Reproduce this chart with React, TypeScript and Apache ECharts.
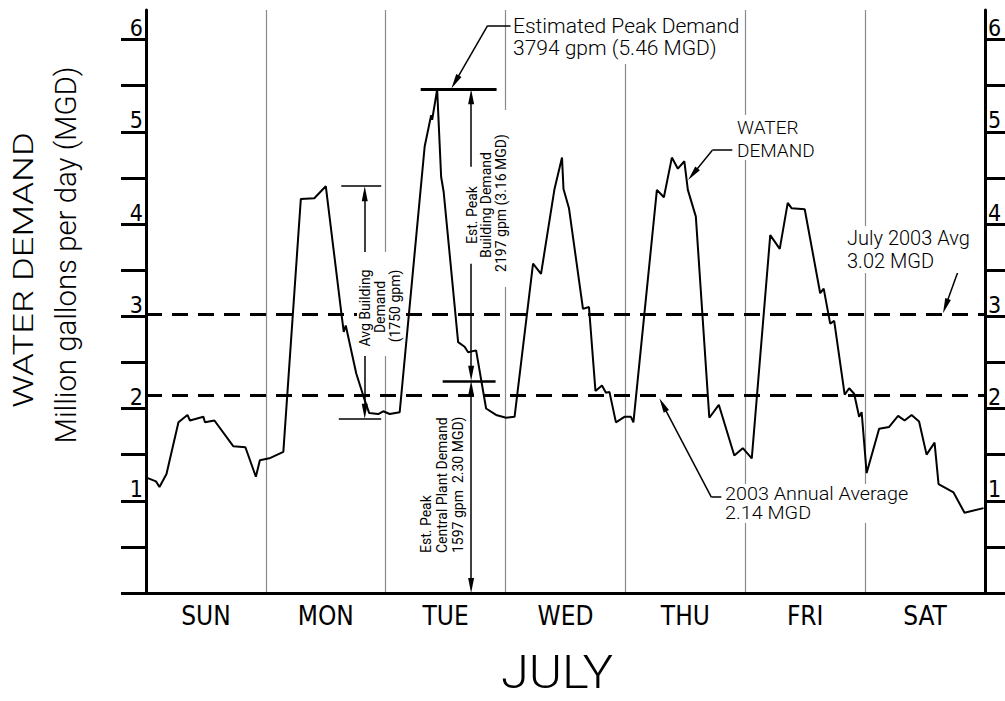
import React, { useEffect, useRef } from 'react';
import * as echarts from 'echarts';

// ---- data ----
const days = ['SUN', 'MON', 'TUE', 'WED', 'THU', 'FRI', 'SAT'];
// hours since Sunday 00:00
const hours = [
  0.1, 2, 2.7, 4.1, 6.5, 8.3, 8.8, 11.5, 11.8, 13.7, 17.5, 19.9, 22, 22.8,
  24.7, 27.5, 31, 33.7, 36, 39.2, 39.6, 40, 42.1, 43.8, 44.7, 46.5, 47.5, 48.8,
  50.8, 55.8, 57.1, 57.3, 58.3, 59.1, 59.6, 62.5, 63.8, 64.5, 66.1, 68.1, 70.1, 72.1,
  73.8, 77.5, 79.1, 81.8, 83.3, 83.6, 84.7, 87.5, 88.7, 90.0, 91.3, 92.1, 92.8, 94.1,
  95.8, 97.1, 97.6, 102.3, 103.7, 105.3, 106.5, 107.8, 108.5, 110.1, 112.8, 114.7, 117.8, 119.5,
  121.3, 125.0, 126.9, 128.5, 129.3, 131.9, 135.0, 135.7, 137.0, 137.8, 139.9, 140.8, 141.8, 142.8,
  143.3, 144.3, 146.8, 148.8, 150.6, 151.9, 153.3, 154.8, 156.3, 157.9, 158.7, 161.7, 163.9, 167.7,
];
// million gallons per day
const demand = [
  1.25, 1.21, 1.15, 1.29, 1.85, 1.93, 1.87, 1.91, 1.85, 1.87, 1.59, 1.58, 1.26, 1.44,
  1.46, 1.53, 4.27, 4.28, 4.41, 3.0, 2.83, 2.9, 2.38, 2.09, 1.95, 1.94, 1.97, 1.94,
  1.96, 4.84, 5.18, 5.13, 5.46, 4.51, 4.35, 2.72, 2.67, 2.61, 2.63, 2.0, 1.93, 1.9,
  1.91, 3.57, 3.46, 4.38, 4.72, 4.38, 4.17, 3.08, 3.1, 2.19, 2.25, 2.17, 2.18, 1.85,
  1.91, 1.91, 1.85, 4.37, 4.29, 4.72, 4.6, 4.68, 4.37, 4.08, 1.9, 2.04, 1.49, 1.57,
  1.46, 3.88, 3.73, 4.23, 4.17, 4.16, 3.25, 3.3, 2.92, 2.95, 2.15, 2.22, 2.16, 1.91,
  1.96, 1.3, 1.78, 1.8, 1.92, 1.87, 1.93, 1.86, 1.5, 1.63, 1.18, 1.09, 0.87, 0.92,
];
const julyAvg = 3.02;
const annualAvg = 2.14;
const peakDemand = 5.46;
const plantPeak = 2.3;
const avgBuildingHigh = 4.41;
const avgBuildingLow = 1.89;
const yTickValues = [0, 0.5, 1, 1.5, 2, 2.5, 3, 3.5, 4, 4.5, 5, 5.5, 6];
const yLabelValues = [1, 2, 3, 4, 5, 6];

const FONT = 'Roboto, "Liberation Sans", sans-serif';
const NARROW = '"Liberation Sans Narrow", "DejaVu Sans Condensed", Roboto, sans-serif';

type P = [number, number];
const HEAD = 0.081; // half arrow head length in MGD units (vertical)

function seg(a: P, b: P, w: number, s0 = 'none', s1 = 'none') {
  const ls = { color: '#000', width: w, type: 'solid' as const };
  return [
    { coord: a, symbol: s0, symbolSize: [6, 15], lineStyle: ls },
    { coord: b, symbol: s1, symbolSize: [6, 15], lineStyle: ls },
  ];
}

const annotationLines = [
  // peak bar & plant bar
  seg([55.0, peakDemand], [70.2, peakDemand], 3),
  seg([59.4, plantPeak], [70.0, plantPeak], 2.5),
  // avg building bars
  seg([39.1, avgBuildingHigh], [47.1, avgBuildingHigh], 1.5),
  seg([38.6, avgBuildingLow], [47.1, avgBuildingLow], 1.5),
  // est. peak building demand arrow
  seg([65.1, peakDemand - HEAD], [65.1, 4.62], 1.5, 'triangle', 'none'),
  seg([65.1, 3.57], [65.1, plantPeak + HEAD], 1.5, 'none', 'triangle'),
  // central plant arrow
  seg([65.1, plantPeak - HEAD], [65.1, HEAD], 1.5, 'triangle', 'triangle'),
  // avg building arrow
  seg([43.8, avgBuildingHigh - HEAD], [43.8, 3.6], 1.5, 'triangle', 'none'),
  seg([43.8, 2.58], [43.8, avgBuildingLow + HEAD], 1.5, 'none', 'triangle'),
  // leaders
  seg([73.0, 6.15], [68.4, 6.15], 1.5),
  seg([68.4, 6.15], [61.9, 5.54], 1.5, 'none', 'triangle'),
  seg([117.4, 4.8], [113.4, 4.8], 1.5),
  seg([113.4, 4.8], [109.5, 4.54], 1.5, 'none', 'triangle'),
  seg([159.1, 3.62], [163.5, 3.62], 1.5),
  seg([163.5, 3.62], [160.1, 3.11], 1.5, 'none', 'triangle'),
  seg([115.2, 1.04], [113.2, 1.04], 1.5),
  seg([113.2, 1.04], [103.5, 2.04], 1.5, 'none', 'triangle'),
];

function txt(text: string, x: number, y: number, size: number, opts: any = {}) {
  return {
    type: 'text',
    x,
    y,
    z: 9,
    rotation: opts.rot || 0,
    scaleX: opts.sx || 1,
    style: {
      text,
      fill: '#000',
      fontSize: size,
      fontFamily: opts.font || FONT,
      fontWeight: opts.weight || 'normal',
      align: opts.align || 'left',
      verticalAlign: 'middle',
    },
  };
}

function mask(x: number, y: number, w: number, h: number) {
  return { type: 'rect', z: 8, shape: { x, y, width: w, height: h }, style: { fill: '#fff' } };
}

const R = Math.PI / 2;

export default function App() {
  const ref = useRef<HTMLDivElement>(null);
  useEffect(() => {
    if (!ref.current) return;
    const chart = echarts.init(ref.current, undefined, { renderer: 'svg' });
    const axisNum = { color: '#000', fontSize: 23, fontFamily: NARROW, verticalAlign: 'bottom' as const, margin: 3 };
    chart.setOption({
      animation: false,
      backgroundColor: '#fff',
      grid: { left: 146, right: 20, top: 10, bottom: 108 },
      xAxis: [
        {
          type: 'value',
          min: 0,
          max: 168,
          axisLine: { show: true, onZero: false, lineStyle: { color: '#000', width: 3 } },
          axisTick: { show: false },
          axisLabel: { show: false },
          splitLine: { show: false },
        },
        {
          type: 'category',
          data: days,
          position: 'bottom',
          boundaryGap: true,
          axisLine: { show: false },
          axisTick: { show: false },
          axisLabel: { color: '#000', fontSize: 26, fontFamily: NARROW, margin: 10, interval: 0 },
          splitLine: { show: true, interval: 0, lineStyle: { color: '#8a8a8a', width: 1.2 } },
        },
      ],
      yAxis: [
        {
          type: 'value',
          min: 0,
          max: 6.32,
          position: 'left',
          axisLine: { show: true, lineStyle: { color: '#000', width: 3 } },
          axisTick: { show: true, customValues: yTickValues, length: 25, lineStyle: { color: '#000', width: 3 } },
          axisLabel: { ...axisNum, customValues: yLabelValues, align: 'right' },
          splitLine: { show: false },
        },
        {
          type: 'value',
          min: 0,
          max: 6.32,
          position: 'right',
          axisLine: { show: true, lineStyle: { color: '#000', width: 3 } },
          axisTick: { show: true, customValues: yTickValues, length: 25, lineStyle: { color: '#000', width: 3 } },
          axisLabel: { ...axisNum, customValues: yLabelValues, align: 'left' },
          splitLine: { show: false },
        },
      ],
      series: [
        {
          type: 'line',
          name: 'Water demand',
          xAxisIndex: 0,
          yAxisIndex: 0,
          z: 20,
          data: hours.map((h, i) => [h, demand[i]]),
          symbol: 'none',
          lineStyle: { color: '#000', width: 2 },
          markLine: {
            silent: true,
            z: 5,
            symbol: ['none', 'none'],
            label: { show: false },
            lineStyle: { color: '#000', width: 3, type: [16, 10] },
            data: [
              { yAxis: julyAvg, lineStyle: { color: '#000', width: 3, type: [16, 10] } },
              { yAxis: annualAvg, lineStyle: { color: '#000', width: 3, type: [16, 10] } },
              ...annotationLines,
            ],
          },
        },
      ],
      graphic: [
        // white wipeouts behind notes
        mask(512, 10, 232, 54),
        mask(491, 110, 19, 177),
        mask(357, 252, 46, 104),
        mask(734, 115, 76, 45),
        mask(844, 226, 138, 47),
        mask(722, 484, 208, 39),
        // axis titles
        txt('WATER DEMAND', 24, 270, 28, { rot: R, sx: 1.3, align: 'center', weight: 300 }),
        txt('Million gallons per day (MGD)', 65, 255, 30, { rot: R, sx: 0.98, align: 'center', weight: 300 }),
        txt('JULY', 557, 672, 46, { sx: 1.1, align: 'center', weight: 300 }),
        // notes
        txt('Estimated Peak Demand', 513, 26, 21, { weight: 300 }),
        txt('3794 gpm (5.46 MGD)', 513, 48, 21, { weight: 300 }),
        txt('WATER', 737, 127, 19, { weight: 300 }),
        txt('DEMAND', 737, 150, 19, { weight: 300 }),
        txt('July 2003 Avg', 847, 238, 20, { weight: 300 }),
        txt('3.02 MGD', 847, 261, 20, { weight: 300 }),
        txt('2003 Annual Average', 725, 494, 18, { sx: 1.1, weight: 300 }),
        txt('2.14 MGD', 725, 513, 18, { sx: 1.1, weight: 300 }),
        txt('Est. Peak', 471.7, 215, 14, { rot: R, align: 'center' }),
        txt('Building Demand', 486, 205, 14, { rot: R, align: 'center' }),
        txt('2197 gpm (3.16 MGD)', 500.5, 203, 14, { rot: R, align: 'center' }),
        txt('Est. Peak', 426, 553, 14, { rot: R, align: 'left' }),
        txt('Central Plant Demand', 442, 553, 14, { rot: R, align: 'left' }),
        txt('1597 gpm  2.30 MGD)', 458, 553, 14, { rot: R, align: 'left' }),
        txt('Avg Building', 365, 308, 14, { rot: R, align: 'center' }),
        txt('Demand', 380, 307, 14, { rot: R, align: 'center' }),
        txt('(1750 gpm)', 395, 306, 14, { rot: R, align: 'center' }),
      ],
    });
    return () => chart.dispose();
  }, []);
  return (
    <div
      ref={ref}
      style={{ position: 'fixed', left: 0, top: 0, width: 1005, height: 701, background: '#fff' }}
    />
  );
}
